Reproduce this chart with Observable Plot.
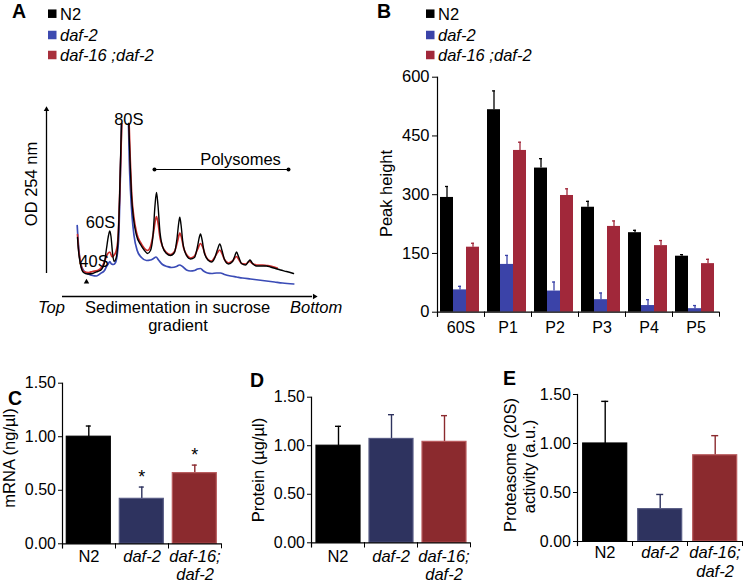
<!DOCTYPE html>
<html><head><meta charset="utf-8">
<script src="https://cdn.jsdelivr.net/npm/d3@7"></script>
<script src="https://cdn.jsdelivr.net/npm/@observablehq/plot@0.6"></script>
<style>
html,body{margin:0;padding:0;background:#fff;}
#fig{position:relative;width:750px;height:583px;overflow:hidden;background:#fff;font-family:"Liberation Sans",Arial,sans-serif;}
#fig .panel{position:absolute;}
#fig .overlay{position:absolute;left:0;top:0;pointer-events:none;}
</style></head>
<body><div id="fig"></div>
<script>
const FONT = '"Liberation Sans", Arial, Helvetica, sans-serif';

// ---------- shared categories ----------
const genotypes = ["N2", "daf-2", "daf-16;daf-2"];
const legendLabels = ["N2", "daf-2", "daf-16 ;daf-2"];
const genotypeAxisLabels = ["N2", "daf-2", "daf-16;\ndaf-2"];
const italicGenotype = [false, true, true];

// ---------- colours ----------
const traceColors = ["#000000", "#3a4bb6", "#cc2b2b"];
const legendColorsA = ["#000000", "#3d4ab0", "#a8303c"];
const barColorsB = ["#000000", "#3b43a8", "#a1283a"];
const barColorsCDE = ["#000000", "#2e335f", "#8b2a2e"];
const barStrokeCDE = ["#000000", "#575b84", "#b85a5c"];

// ---------- Panel A: polysome traces [sedimentation position, OD254 (a.u.)] ----------
const traceN2 = [[29,59],[30,46],[32,32],[35,24],[39,22.5],[44,23],[49,25],[53,27],[56,34],[58,48],[60,61],[61.3,65.5],[62.5,60],[64,44],[65.5,35],[67.5,38],[69.5,56],[71,96],[72,136],[73,173],[76.5,NaN],[80.3,173],[81.5,136],[83,101],[85,78],[88,61],[92,52],[96,46],[99,43],[102,46],[104.5,61],[106.5,91],[108,104],[109.5,91],[111.5,64],[114,50],[118,43],[122,41],[126,44],[128.5,58],[130.3,74],[131.3,79.3],[132.5,72],[134.5,53],[138,41],[142,37.5],[146,39],[149,50],[151,60],[152,62.5],[153.5,57],[156,43],[160,36],[163,34.5],[166,38],[169,47],[171.3,52.5],[173.5,46],[176,37],[180,32.5],[184,35],[186.5,41],[188,44.5],[190,40],[193,33],[197,31.5],[200,35],[201.5,36.5],[204,33],[208,30.5],[214,30.5],[218,30.5],[222,29.5],[227,28],[232,26.5],[238,25],[245,23]];
const traceDaf16 = [[29,62],[30,48],[32,34],[35,25],[40,24],[44,25],[49,26],[53,29],[56,35],[58.7,42],[61.3,44.5],[63.7,39.5],[65.3,41],[67.5,45],[69.5,58],[71,96],[72.2,136],[73.3,173],[76.8,NaN],[80.6,173],[81.8,136],[83.3,101],[85.3,80],[88,64],[92,54],[96,48],[99,46],[102,50],[105,64],[107,77],[108,80],[109.5,74],[111.5,59],[114,50],[118,44],[122,42],[126,45],[129,55],[131.3,63.3],[133,59],[135,49],[138,42],[142,38.5],[146,40.5],[149,47],[152,53],[154,50],[157,41],[160,36.5],[163,35.5],[166,39],[169,44],[171.3,46.5],[173.5,43],[176,37],[180,33.5],[184,35.5],[188,40],[190,37.5],[193,33],[197,32.5],[201,35],[204,33],[208,31.5],[214,31.5],[218,31],[222,30.5],[228.7,28.5]];
const traceDaf2 = [[28.7,71],[30,51],[32,34],[35,26],[40,22.5],[44,21],[48,20.5],[52,23],[56,26],[58,30],[60,33],[61.3,35],[63,32.5],[65,32],[67,34],[69,44],[70.5,66],[71.5,106],[72.5,146],[73,173],[76.5,NaN],[80,173],[80.8,136],[82,106],[83.5,81],[85.5,61],[88.7,46],[93,39],[98,36],[102,36.5],[105,38],[107.5,39.5],[110,36.5],[114,32],[118.7,30],[123,29],[128,30],[131,31.5],[134,30],[138,26.5],[142,25.5],[146,26],[149,27.5],[152,28],[155,25.5],[159,23.5],[163,23],[168,23.5],[172,23.5],[176,22],[182,20.5],[188,19.5],[194,18.5],[202,17.5],[210,16.5],[218,15.5],[226,14.5],[234,13.5],[245.3,12.5]];

// ---------- Panel B: peak heights ----------
const categoriesB = ["60S", "P1", "P2", "P3", "P4", "P5"];
const peakN2 = [293, 517, 368, 268, 203, 143];
const peakDaf2 = [57, 122, 54, 32, 17, 9];
const peakDaf16 = [166, 413, 298, 219, 170, 124];
const errN2 = [28, 48, 24, 15, 6, 4];
const errDaf2 = [9, 23, 23, 17, 15, 8];
const errDaf16 = [10, 21, 17, 14, 13, 11];
const ticksB = [0, 150, 300, 450, 600];

// ---------- Panels C, D, E ----------
const mrna = [1.00, 0.42, 0.66];
const mrnaErr = [0.10, 0.11, 0.075];
const mrnaSignificant = [false, true, true];
const protein = [1.00, 1.07, 1.04];
const proteinErr = [0.20, 0.25, 0.27];
const proteasome = [1.00, 0.33, 0.88];
const proteasomeErr = [0.43, 0.15, 0.20];
const ticksCDE = [0, 0.5, 1.0, 1.5];

const plotStyle = {background: "transparent", fontFamily: FONT, fontSize: "15.5px", color: "#000", overflow: "visible"};
const fig = document.getElementById("fig");
function place(node, left, top) {
  const d = document.createElement("div");
  d.className = "panel";
  d.style.left = left + "px";
  d.style.top = top + "px";
  d.appendChild(node);
  fig.appendChild(d);
}

// ---------- Panel A ----------
const xy = {x: d => d[0], y: d => d[1]};
const plotA = Plot.plot({
  width: 330, height: 245,
  marginLeft: 48, marginRight: 12, marginTop: 10, marginBottom: 44,
  x: {domain: [0, 270], axis: null},
  y: {domain: [0, 191], axis: null},
  style: plotStyle,
  marks: [
    Plot.ruleX([-2], {y1: 23, y2: 185, stroke: "#000", strokeWidth: 1.3}),
    Plot.dot([[-2, 187]], {...xy, symbol: "triangle2", r: 2.6, fill: "#000", stroke: null}),
    Plot.ruleY([0], {x1: 14, x2: 264, stroke: "#000", strokeWidth: 1.3}),
    Plot.dot([[266, 0]], {...xy, symbol: "triangle2", r: 2.6, rotate: 90, fill: "#000", stroke: null}),
    Plot.line(traceDaf2, {...xy, stroke: traceColors[1], strokeWidth: 1.7, curve: "monotone-x"}),
    Plot.line(traceDaf16, {...xy, stroke: traceColors[2], strokeWidth: 1.7, curve: "monotone-x"}),
    Plot.line(traceN2, {...xy, stroke: traceColors[0], strokeWidth: 1.4, curve: "monotone-x"}),
    Plot.link([0], {x1: 106, x2: 240, y1: 127, y2: 127, stroke: "#000", strokeWidth: 1.2, markerStart: "dot", markerEnd: "dot"}),
    Plot.text(["80S"], {x: 80.3, y: 176.3, text: d => d, fontSize: 16.5}),
    Plot.text(["60S"], {x: 52, y: 73.3, text: d => d, fontSize: 16.5}),
    Plot.text(["40S"], {x: 45.5, y: 34.3, text: d => d, fontSize: 16.5}),
    Plot.text(["Polysomes"], {x: 192, y: 136.3, text: d => d, fontSize: 16.5}),
    Plot.dot([[38, 14.5]], {...xy, symbol: "triangle2", r: 2.6, fill: "#000", stroke: null})
  ]
});
place(plotA, 0, 95);

// ---------- Panel B ----------
const seriesB = [peakN2, peakDaf2, peakDaf16];
const errsB = [errN2, errDaf2, errDaf16];
const rowsB = [];
categoriesB.forEach((c, i) => seriesB.forEach((s, k) => rowsB.push({cat: c, g: genotypes[k], v: s[i], e: errsB[k][i], col: barColorsB[k]})));
const plotB = Plot.plot({
  width: 420, height: 285,
  marginLeft: 105, marginRight: 28.3, marginTop: 16.7, marginBottom: 29.3,
  fx: {domain: categoriesB, padding: 0, axis: null},
  x: {domain: genotypes, paddingInner: 0, paddingOuter: 0.25, align: 0.35, axis: null},
  y: {domain: [0, 600], range: [251.7, 16.7]},
  style: plotStyle,
  marks: [
    Plot.barY(rowsB, {fx: "cat", x: "g", y: "v", fill: "col"}),
    Plot.ruleX(rowsB, {fx: "cat", x: "g", y1: "v", y2: d => d.v + d.e, stroke: "col", strokeWidth: 1.3}),
    Plot.tickY(rowsB, {fx: "cat", x: "g", y: d => d.v + d.e, stroke: "col", strokeWidth: 1.3, insetLeft: 5, insetRight: 5}),
    Plot.ruleY([0], {stroke: "#000", strokeWidth: 1.2}),
    Plot.frame({anchor: "left", insetTop: 235, stroke: "#000"}),
    Plot.frame({anchor: "right", insetTop: 235, stroke: "#000"}),
    Plot.frame({anchor: "left", fx: () => categoriesB[0], stroke: "#000", strokeWidth: 1.2}),
    Plot.axisY({ticks: ticksB, tickSize: 5, tickPadding: 3, label: null, fontSize: 16.5}),
    Plot.text(categoriesB, {fx: d => d, text: d => d, frameAnchor: "bottom", lineAnchor: "top", dy: 5, fontSize: 16})
  ]
});
place(plotB, 330, 60);

// ---------- Panels C, D, E ----------
function barPanel(cfg) {
  const rows = genotypes.map((g, i) => ({g, k: "bar", v: cfg.values[i], e: cfg.errors[i],
    sig: cfg.sig ? cfg.sig[i] : false, fill: barColorsCDE[i], stroke: barStrokeCDE[i]}));
  const labels = genotypes.map((g, i) => ({g, label: genotypeAxisLabels[i], italic: italicGenotype[i]}));
  return Plot.plot({
    width: 250, height: 223,
    marginLeft: cfg.ml, marginRight: cfg.mr, marginTop: cfg.yTop, marginBottom: 223 - cfg.yZero - 4,
    fx: {domain: genotypes, padding: 0, axis: null},
    x: {domain: ["bar"], paddingInner: 0, paddingOuter: cfg.pad, align: cfg.align, axis: null},
    y: {domain: [0, 1.5], range: [cfg.yZero, cfg.yTop]},
    style: plotStyle,
    marks: [
      Plot.ruleX(rows, {fx: "g", x: "k", y1: "v", y2: d => d.v + d.e, stroke: "fill", strokeWidth: 1.4}),
      Plot.tickY(rows, {fx: "g", x: "k", y: d => d.v + d.e, stroke: "fill", strokeWidth: 1.4, insetLeft: cfg.cap, insetRight: cfg.cap}),
      Plot.barY(rows, {fx: "g", x: "k", y: "v", fill: "fill", stroke: "stroke", strokeWidth: 1.2}),
      Plot.ruleY([0], {stroke: "#000", strokeWidth: 1.2}),
      Plot.frame({anchor: "left", insetTop: cfg.yZero - cfg.yTop, stroke: "#000"}),
      Plot.frame({anchor: "right", insetTop: cfg.yZero - cfg.yTop, stroke: "#000"}),
      Plot.frame({anchor: "left", fx: () => genotypes[0], stroke: "#000", strokeWidth: 1.2}),
      Plot.axisY({ticks: ticksCDE, tickFormat: d3.format(".2f"), tickSize: 4, tickPadding: 2.5, label: null, fontSize: 16}),
      Plot.text(labels.filter(d => !d.italic), {fx: "g", text: "label", frameAnchor: "bottom", lineAnchor: "top", dy: cfg.labelDy, fontSize: 16.5, lineHeight: 1.1}),
      Plot.text(labels.filter(d => d.italic), {fx: "g", text: "label", frameAnchor: "bottom", lineAnchor: "top", dy: cfg.labelDy, fontSize: 16.5, lineHeight: 1.1, fontStyle: "italic"}),
      Plot.text(rows.filter(d => d.sig), {fx: "g", x: "k", y: d => d.v + d.e, text: () => "*", dy: -9.5, fontSize: 18})
    ]
  });
}
place(barPanel({values: mrna, errors: mrnaErr, sig: mrnaSignificant, ml: 61.7, mr: 28.3, yTop: 22.7, yZero: 183.3, pad: 0.09, align: 0.45, cap: 24.5, labelDy: 1}), 0, 360);
place(barPanel({values: protein, errors: proteinErr, ml: 60, mr: 28.3, yTop: 36.7, yZero: 182.3, pad: 0.1, align: 0.5, cap: 25, labelDy: 2}), 250, 360);
place(barPanel({values: proteasome, errors: proteasomeErr, ml: 77.3, mr: 7.3, yTop: 34, yZero: 181, pad: 0.12, align: 0.5, cap: 25.5, labelDy: 0}), 500, 360);

// ---------- overlay: panel letters, legends, axis titles ----------
const svg = d3.create("svg").attr("class", "overlay").attr("width", 750).attr("height", 583)
  .style("font-family", FONT);
const letters = [["A", 12, 17.5], ["B", 377, 17.5], ["C", 8, 405], ["D", 250, 387], ["E", 503, 385]];
svg.selectAll("text.letter").data(letters).join("text").attr("class", "letter")
  .attr("x", d => d[1]).attr("y", d => d[2]).text(d => d[0])
  .attr("font-size", 19.5).attr("font-weight", "bold");

function legend(x0, colors) {
  const rowsY = [13.7, 35, 55];
  const g = svg.append("g");
  legendLabels.forEach((lab, i) => {
    g.append("rect").attr("x", x0).attr("y", rowsY[i] - 4.25).attr("width", 8.5).attr("height", 8.5).attr("fill", colors[i]);
    g.append("text").attr("x", x0 + 12).attr("y", rowsY[i] + 6).attr("font-size", 16.5)
      .attr("font-style", italicGenotype[i] ? "italic" : "normal").text(lab);
  });
}
legend(48, legendColorsA);
legend(426, barColorsB);

function rotated(text, x, y, size) {
  svg.append("text").attr("transform", `translate(${x},${y}) rotate(-90)`).attr("text-anchor", "middle")
    .attr("font-size", size).text(text);
}
rotated("OD 254 nm", 37, 184, 16.5);
rotated("Peak height", 391.5, 193.5, 16.5);
rotated("mRNA (ng/µl)", 15, 458, 16.5);
rotated("Protein (µg/µl)", 264, 470, 16.5);
rotated("Proteasome (20S)", 516, 465, 16.5);
rotated("activity (a.u.)", 534.5, 466.5, 16.5);

svg.append("text").attr("x", 38).attr("y", 313).attr("font-size", 16.5).attr("font-style", "italic").text("Top");
svg.append("text").attr("x", 85).attr("y", 313).attr("font-size", 16.5).text("Sedimentation in sucrose");
svg.append("text").attr("x", 178).attr("y", 331).attr("font-size", 16.5).attr("text-anchor", "middle").text("gradient");
svg.append("text").attr("x", 290).attr("y", 313).attr("font-size", 16.5).attr("font-style", "italic").text("Bottom");
fig.appendChild(svg.node());
</script>
</body></html>
